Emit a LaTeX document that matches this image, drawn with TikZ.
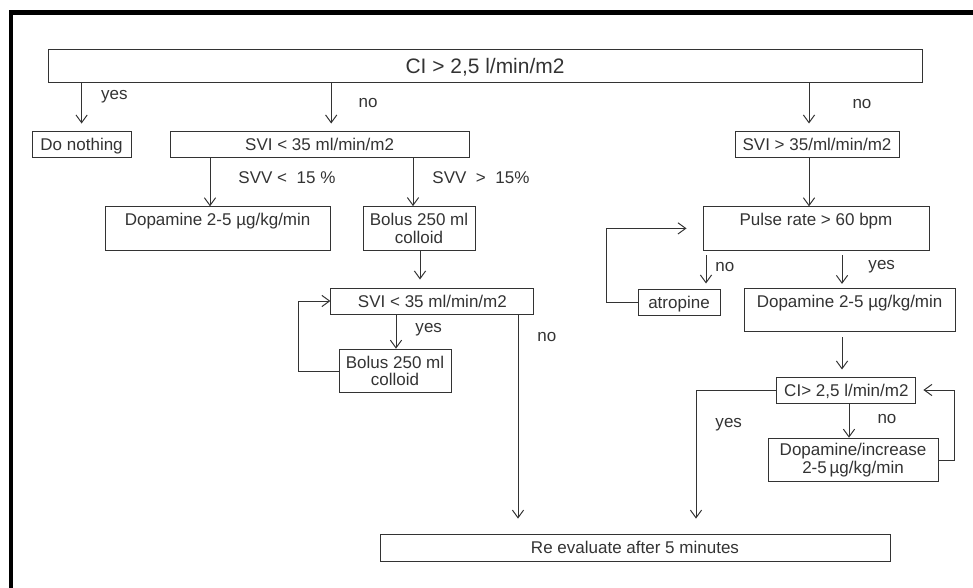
\documentclass[tikz,border=0pt]{standalone}
\usepackage{fontspec}
\setmainfont{Liberation Sans}
\usetikzlibrary{positioning,arrows.meta,calc}

\tikzset{
    >={Straight Barb[length=5.5pt,width=8pt]},
    box/.style = {
        draw,
        shape=rectangle,
        inner sep=0pt,
        line width=0.7pt,
        font=\fontsize{12.1}{12.4}\selectfont
    },
    single/.style = {
        box,
        minimum height=0.65cm,
        text height=8.7pt,
        text depth=0pt
    },
    tallbox/.style = {
        box,
        text height=0.48cm,
        text depth=0.6cm
    },
    twoline/.style = {
        box,
        align=center,
        minimum height=1.09cm
    },
    lbl/.style = {
        inner sep=0pt,
        font=\fontsize{12.1}{12.4}\selectfont
    },
}

\begin{document}
\begin{tikzpicture}[black!80, line width=0.7pt]
    \useasboundingbox (0,0) rectangle (24.325,-14.7);
    \draw[black, line width=0.11cm] (0.275,-14.8) -- (0.275,-0.3125) -- (24.4,-0.3125);

    \node[single, minimum width=21.85cm, minimum height=0.825cm, text height=10.7pt, font=\fontsize{14.9}{16}\selectfont] (ci) at (12.125,-1.64) {CI > 2,5 l/min/m2};
    \node[single, minimum width=2.475cm] (nothing) at (2.04,-3.6) {Do nothing};
    \node[single, minimum width=7.475cm] (svilow) at (7.99,-3.6) {SVI < 35 ml/min/m2};
    \node[single, minimum width=4.1cm] (svihigh) at (20.425,-3.6) {SVI > 35/ml/min/m2};
    \node[tallbox, minimum width=5.625cm] (dopa) at (5.44,-5.71) {Dopamine 2-5 µg/kg/min};
    \node[twoline, minimum width=2.8cm] (bolus) at (10.475,-5.71) {Bolus 250 ml\\colloid};
    \node[single, minimum width=5.075cm] (svicheck) at (10.81,-7.525) {SVI < 35 ml/min/m2};
    \node[twoline, minimum width=2.8cm] (bolusrep) at (9.875,-9.275) {Bolus 250 ml\\colloid};
    \node[tallbox, minimum width=5.65cm] (pulse) at (20.4,-5.71) {Pulse rate > 60 bpm};
    \node[single, minimum width=2.05cm] (atropine) at (16.975,-7.55) {atropine};
    \node[tallbox, minimum width=5.275cm] (dopahigh) at (21.24,-7.75) {Dopamine 2-5 µg/kg/min};
    \node[single, minimum width=3.475cm] (cicheck) at (21.16,-9.75) {CI> 2,5 l/min/m2};
    \node[twoline, minimum width=4.25cm] (dopainc) at (21.325,-11.5) {Dopamine/increase\\2-5\,µg/kg/min};
    \node[single, minimum width=12.75cm, minimum height=0.675cm] (reeval) at (15.875,-13.69) {Re evaluate after 5 minutes};

    % first split on CI
    \path[draw, ->, shorten >=0.175cm] (ci.south -| nothing.north) -- (nothing.north) node [lbl, pos=0.3, right=0.475cm] {yes};
    \path[draw, ->, shorten >=0.175cm] (ci.south -| 8.28,0) -- (svilow.north -| 8.28,0) node [lbl, pos=0.43, right=0.675cm] {no};
    \path[draw, ->, shorten >=0.175cm] (ci.south -| 20.225,0) -- (svihigh.north -| 20.225,0) node [lbl, pos=0.45, right=1.075cm] {no};

    % low SVI branch
    \path[draw, ->] (svilow.south -| 5.25,0) -- (dopa.north -| 5.25,0) node [lbl, pos=0.42, right=0.7cm] {SVV~<~~15~\%};
    \path[draw, ->] (svilow.south -| 10.325,0) -- (bolus.north -| 10.325,0) node [lbl, pos=0.42, right=0.475cm] {SVV~~>~~15\%};
    \path[draw, ->, shorten >=0.2cm] (bolus.south -| 10.5,0) -- (svicheck.north -| 10.5,0);
    \path[draw, ->] (svicheck.south -| 9.9,0) -- (bolusrep.north -| 9.9,0) node [lbl, pos=0.43, right=0.475cm] {yes};
    \path[draw, ->] (bolusrep.west) -- ++(-1,0) |- (svicheck.west);
    \path[draw, ->, shorten >=0.375cm] (svicheck.south -| 12.95,0) -- (reeval.north -| 12.95,0) node [lbl, pos=0.105, right=0.475cm] {no};

    % high SVI branch
    \path[draw, ->] (svihigh.south -| 20.225,0) -- (pulse.north -| 20.225,0);
    \path[draw, ->, shorten <=0.125cm, shorten >=0.125cm] (pulse.south -| 17.65,0) -- (atropine.north -| 17.65,0) node [lbl, pos=0.44, right=0.225cm] {no};
    \path[draw, ->, shorten <=0.125cm, shorten >=0.1cm] (pulse.south -| 21.05,0) -- (dopahigh.north -| 21.05,0) node [lbl, pos=0.44, right=0.65cm] {yes};
    \path[draw, ->, shorten >=0.4cm] (atropine.west) -- ++(-0.775,0) |- (pulse.west);
    \path[draw, ->, shorten <=0.125cm, shorten >=0.175cm] (dopahigh.south -| 21.05,0) -- (cicheck.north -| 21.05,0);
    \path[draw, ->] (cicheck.south -| 21.225,0) -- (dopainc.north -| 21.225,0) node [lbl, pos=0.46, right=0.7cm] {no};
    \path[draw, ->, shorten >=0.175cm] (dopainc.east) -- ++(0.4,0) |- (cicheck.east);
    \path[draw, ->, shorten >=0.375cm] (cicheck.west) -| (reeval.north -| 17.4,0) node [lbl, pos=0.62, right=0.475cm] {yes};
\end{tikzpicture}
\end{document}
